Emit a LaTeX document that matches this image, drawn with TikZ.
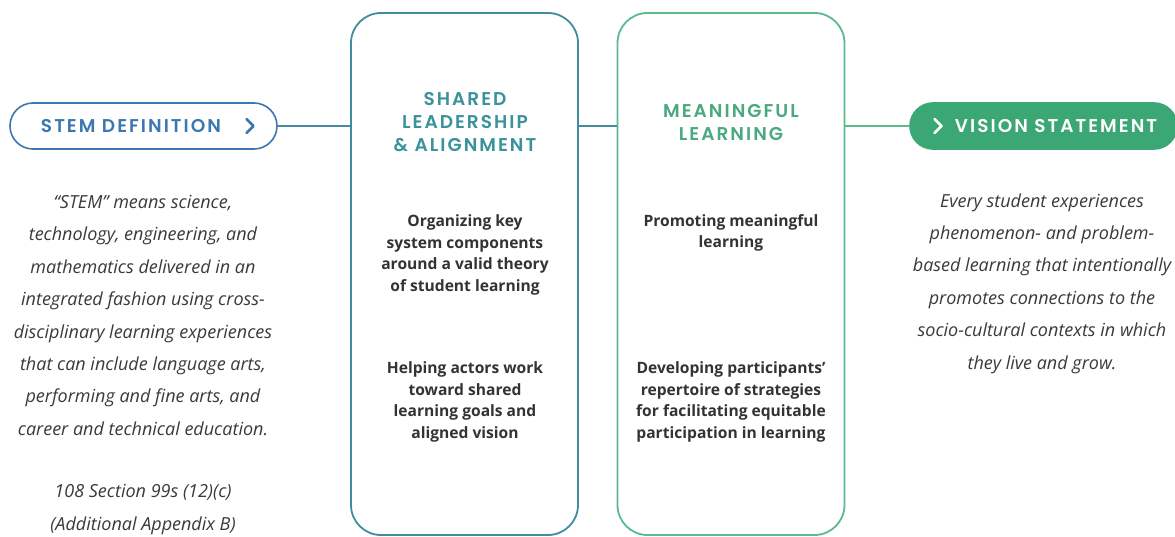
\documentclass[tikz,border=0pt]{standalone}
\usepackage{fontspec}
\setmainfont{Open Sans}
\newfontfamily\headfont[LetterSpace=11,UprightFont=* SemiBold,BoldFont=* SemiBold]{Poppins}
\definecolor{pillblue}{HTML}{3C78AF}
\definecolor{linkblue}{HTML}{4A88A8}
\definecolor{tealc}{HTML}{3F8E9E}
\definecolor{tealtxt}{HTML}{3A929B}
\definecolor{greenc}{HTML}{5DB98E}
\definecolor{greentxt}{HTML}{4BA97F}
\definecolor{pillgreen}{HTML}{3AA774}
\definecolor{bodytxt}{HTML}{333333}
\definecolor{itxt}{HTML}{3A3A3A}
\begin{document}
\begin{tikzpicture}[x=1pt,y=-1pt,
  pill/.style={rectangle,rounded corners=23pt,minimum width=267pt,minimum height=46pt,line width=1.6pt,inner sep=0pt},
  bigbox/.style={rectangle,rounded corners=30pt,minimum width=227pt,minimum height=522pt,line width=1.8pt,fill=white,inner sep=0pt},
  headtxt/.style={font=\headfont\fontsize{18.5}{22.7}\selectfont,align=center,inner sep=0pt},
  pilltxt/.style={font=\headfont\fontsize{18.5}{20}\selectfont,inner sep=0pt},
  bodyblock/.style={font=\bfseries\fontsize{15.6}{21.7}\selectfont,align=center,text=bodytxt,inner sep=0pt},
  itblock/.style={font=\itshape\fontsize{18}{32.4}\selectfont,align=center,text=itxt,inner sep=0pt},
  chev/.style={line width=2.8pt,line cap=round,line join=round},
  link/.style={line width=1.6pt}
]
\useasboundingbox[fill=white] (0,0) rectangle (1175,537);

% boxes
\node[bigbox,draw=tealc] (shared) at (464.5,274) {};
\node[bigbox,draw=greenc] (meaning) at (731,274) {};

% pills
\node[pill,draw=pillblue,fill=white] (stem) at (143.5,126) {};
\node[pill,draw=pillgreen,fill=pillgreen] (vision) at (1043.5,126) {};

% connectors
\draw[link,linkblue] (stem.east) -- (stem.east -| shared.west);
\draw[link,tealc] (stem.east -| shared.east) -- (stem.east -| meaning.west);
\draw[link,greenc] (stem.east -| meaning.east) -- (vision.west);

% pill texts
\node[pilltxt,text=pillblue] (stemtxt) at (131,126) {STEM DEFINITION};
\coordinate (sc) at (250,126);
\draw[chev,pillblue] ([xshift=-3.5pt,yshift=-7pt]sc) -- ([xshift=3.5pt]sc) -- ([xshift=-3.5pt,yshift=7pt]sc);
\node[pilltxt,text=white] (visiontxt) at (1056,126) {VISION STATEMENT};
\coordinate (vc) at (938,126);
\draw[chev,white] ([xshift=-3.5pt,yshift=-7pt]vc) -- ([xshift=3.5pt]vc) -- ([xshift=-3.5pt,yshift=7pt]vc);

% box titles
\node[headtxt,text=tealtxt] (sharedtitle) at (465,122) {SHARED\\LEADERSHIP\\\& ALIGNMENT};
\node[headtxt,text=greentxt] (meaningtitle) at (731,122.5) {MEANINGFUL\\LEARNING};

% box bodies
\node[bodyblock] (s1) at (465,255) {Organizing key\\system components\\around a valid theory\\of student learning};
\node[bodyblock] (s2) at (465,402) {Helping actors work\\toward shared\\learning goals and\\aligned vision};
\node[bodyblock] (m1) at (731,233) {Promoting meaningful\\learning};
\node[bodyblock] (m2) at (731,402) {Developing participants’\\repertoire of strategies\\for facilitating equitable\\participation in learning};

% side texts
\node[itblock] (stemdef) at (143,315.5) {“STEM” means science,\\technology, engineering, and\\mathematics delivered in an\\integrated fashion using cross-\\disciplinary learning experiences\\that can include language arts,\\performing and fine arts, and\\career and technical education.};
\node[itblock] (stemref) at (143,509.5) {108 Section 99s (12)(c)\\(Additional Appendix B)};
\node[itblock] (vistxt) at (1042,283.5) {Every student experiences\\phenomenon- and problem-\\based learning that intentionally\\promotes connections to the\\socio-cultural contexts in which\\they live and grow.};
\end{tikzpicture}
\end{document}
